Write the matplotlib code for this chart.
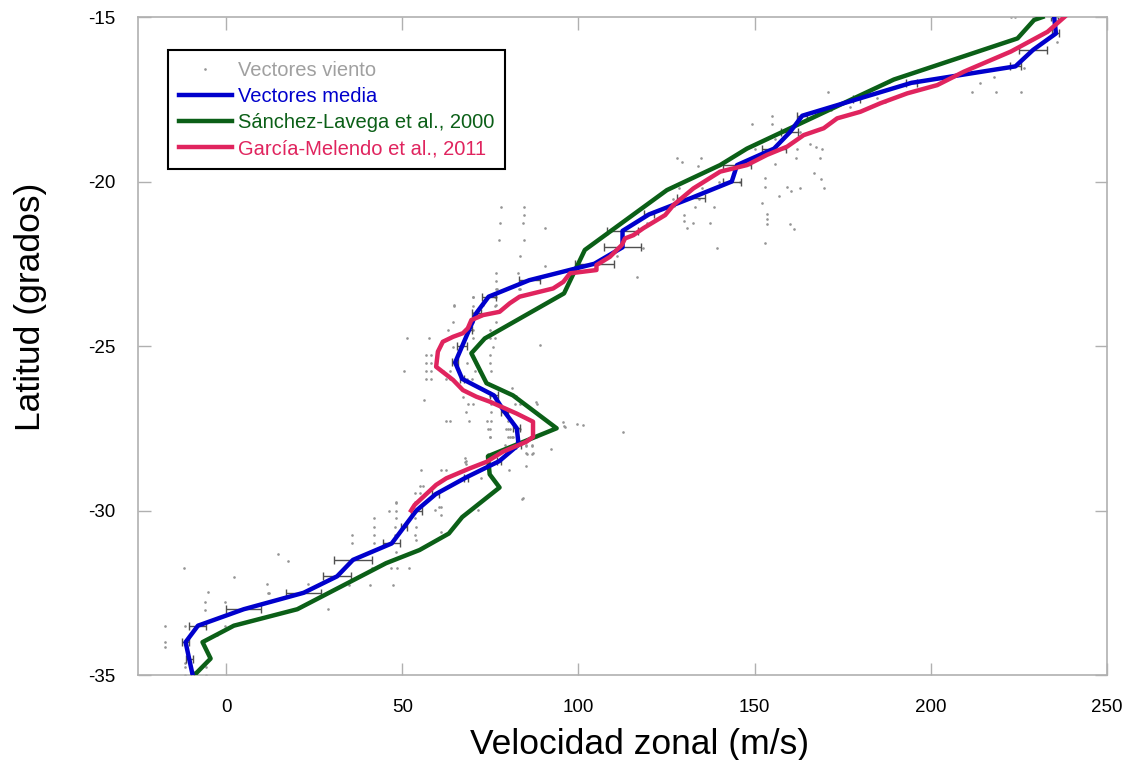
import matplotlib
matplotlib.use("Agg")
import matplotlib.pyplot as plt

plt.rcParams['font.family'] = ['Liberation Sans', 'DejaVu Sans']
plt.rcParams['axes.unicode_minus'] = False

# Mean wind profile (blue) with horizontal uncertainty
lat_mean = [-35, -34.5, -34, -33.5, -33, -32.5, -32, -31.5, -31, -30.5, -30,
            -29.5, -29, -28.5, -28, -27.5, -27, -26.5, -26, -25.5, -25, -24.5,
            -24, -23.5, -23, -22.5, -22, -21.5, -21, -20.5, -20, -19.5, -19,
            -18.5, -18, -17.5, -17, -16.5, -16, -15.5, -15]
u_mean = [-9.5, -10.5, -11.5, -8, 5, 22, 31.5, 36, 47, 50.5, 54,
          59.5, 68, 77.5, 83, 82.5, 79, 76, 67, 65, 67, 69,
          71, 74.5, 86, 104.5, 112.5, 112.5, 120, 132, 143.5, 145, 155.5,
          160, 163.5, 179, 194.5, 224, 229, 235.5, 235]
u_err = [0.5, 1.0, 1.0, 2.4, 5.0, 5.0, 4.0, 5.5, 2.4, 0.8, 1.5,
         1.0, 0.6, 0.5, 0.8, 1.0, 1.0, 1.2, 0.6, 0.8, 1.4, 0.7,
         1.2, 2.0, 3.0, 5.5, 5.2, 4.5, 1.4, 4.0, 2.6, 4.0, 3.3,
         2.4, 1.4, 1.0, 1.5, 1.6, 4.0, 1.0, 1.0]

# Sánchez-Lavega et al., 2000 profile
lat_sl = [-35, -34.5, -34, -33.5, -33, -31.6, -31.2, -30.7, -30.2, -29.3,
          -28.9, -28.35, -27.5, -26.5, -26.13, -25.22, -24.77, -23.4, -22.08,
          -20.26, -19.5, -19.0, -16.9, -15.65, -15.09, -15.0]
u_sl = [-9, -4.4, -6.7, 2.2, 20.2, 45.4, 54.9, 63.2, 67, 77.6,
        74.8, 74.3, 93.8, 81.4, 73.9, 69.6, 73.4, 95.9, 101.8,
        125.1, 140.2, 147.8, 189.5, 224.6, 229.3, 231.7]

# García-Melendo et al., 2011 profile
lat_gm = [-30.0, -29.83, -29.22, -29.02, -28.72, -28.52, -28.21, -27.91, -27.76,
          -27.3, -27.05, -26.69, -26.54, -26.34, -26.03, -25.63, -25.17, -24.87,
          -24.72, -24.61, -24.46, -24.21, -24.06, -23.96, -23.7, -23.5, -23.25,
          -23.05, -22.79, -22.69, -22.54, -22.29, -21.93, -21.73, -21.63, -21.42,
          -21.02, -20.71, -20.21, -19.7, -19.5, -19.19, -18.94, -18.59, -18.38,
          -18.08, -17.88, -17.62, -17.32, -17.07, -16.66, -16.05, -15.45, -15.0]
u_gm = [52.5, 53.5, 59.6, 62.5, 69.1, 73.9, 78.6, 85.2, 87.1,
        87.1, 82.4, 74.8, 71, 67.2, 64.4, 59.6, 60.1, 61.5,
        64.4, 67.2, 68.6, 69.6, 72.9, 77.6, 80.5, 83.3, 92.8,
        95.7, 97.6, 105.1, 105.1, 108.9, 112.3, 113.2, 115.6, 118.4,
        124.6, 127, 132.6, 140.2, 147.8, 153.5, 159.2, 163.9, 169.6,
        173.4, 180, 185.7, 193.3, 201.8, 209.4, 222.7, 233.1, 237.9]

# Individual wind vectors
u_pts = [-11.9, 14.8, 17.6, 2.1, -5.1, 11.5, 12.2, -6, -0.3, -6, -0.3, -17.3, -11.7, 29,
         23.1, -17.4, -17.4, -11.8, -11.8, -5.8, -5.8, -11.7, -2.6,
         35.7, 35.7, 41.9, 41.9, 41.9, 41.9, 46.2, 48.3, 48.3, 48.3, 47.8, 47.8, 48.1,
         46.8, 48.5, 41.4, 40.9, 47.3, 52.0, 53.5, 55.0, 53.5, 54.0, 53.5, 54.0, 53.5,
         54.0, 54.9, 60.0, 61.1, 61.1, 61.1, 71.5, 84.3, 12.0, 35, 59.2, 56.0,
         55.4, 61.1, 62.5, 67.9, 67.9, 74.8, 74.3, 80, 80, 81, 79.1, 85.2, 86.7,
         85.2, 87.1, 92.3, 96.1, 80.2, 85.2, 72.4, 84.1, 74.3, 68, 68, 60.4,
         83.3, 90.4, 76.7, 82.9, 76.5, 83.3, 76.5, 83.3, 70, 76.7, 72.9, 76.7, 64.8,
         70, 71.5, 64.4, 70, 76.7, 62.9, 70, 74.8, 70, 74.8, 76.2, 51.3, 57.7,
         64.4, 75.7, 89, 56.7, 58.2, 74.8, 64.8, 68.5, 71, 56.7, 58.2, 74.8,
         50.6, 56.7, 58.2, 61.5, 63.5, 70.5, 71.7, 75.1, 56.7, 58.2, 62.5, 63.6,
         68.3, 69.8, 81, 67.2, 56.1, 74.8, 82.4, 68.6, 70.2, 75.3, 81.9, 83.3,
         87.9, 88.2, 68, 75.3, 81.4, 87.6, 62.3, 63.4, 68.8, 74.1, 75.3, 79.9,
         81.0, 95.7, 95.9, 99.5, 101.3, 112.5, 74.8, 79.5, 80.5, 83.3, 74.8, 80.5,
         81.5, 86.9, 88.0, 80.5, 81.6, 85.2, 86.9, 85.5, 86.9, 48.3,
         77.9, 84.5, 84.5, 77.6, 84.3, 90.4, 77.4, 84.5, 77, 83, 70.2, 76.2,
         64.6, 70.2, 76.2, 116.7, 118.4, 119.4, 110.8,
         127.9, 129.5, 134.8, 134, 149.2, 154.9, 154.9, 170.7, 155.9, 152.1, 152.8,
         152.8, 159.2, 160.3, 161.8, 162, 165.8, 167.5, 169, 168.5, 138.6, 137.2,
         132.6, 130.7, 133.1, 130, 130, 127, 126.7, 139.8, 145.9, 155.9, 162.8,
         170.3, 177, 183.8, 187.6,
         211.8, 218.6, 225.5, 213.9, 217.9, 219.8, 226.5, 235.7, 222.7, 224.0,
         228.9, 237.9, 188.1, 184.8, 187.1,
         171.8, 155.9, 150.1, 162.9, 166.9, 168.7, 169.6, 156.8, 153.6, 153.6,
         153.6, 160.1, 161.3, 153, 128.5, 130, 135.1, 134.2, 139.4]
lat_pts = [-31.76, -31.32, -31.52, -32.01, -32.47, -32.24, -32.5, -32.77, -32.77, -33.02,
           -33.51, -33.51, -33.51, -33.0, -32.24, -34.01, -34.14, -34.63, -34.75, -34.75,
           -35.0, -35.0, -33.78,
           -30.74, -31.0, -30.24, -30.5, -30.74, -31.0, -30.0, -29.75, -30.0, -30.24,
           -30.49, -30.74, -31.25, -31.76, -31.76, -31.76, -32.26, -32.26, -31.76,
           -29.48, -29.48, -29.75, -30.0, -30.24, -30.49, -30.74, -30.9, -29.25,
           -29.48, -29.9, -30.14, -30.64, -29.97, -29.63, -32.52, -32.26, -29.98, -29.25,
           -28.77, -28.77, -28.77, -28.41, -28.52, -27.76, -27.52, -27.52, -27.76,
           -27.76, -28.01, -28.01, -28.01, -28.26, -28.26, -28.13, -27.45, -28.77,
           -28.64, -29.02, -29.66, -28.28, -28.48, -28.6, -29.89,
           -22.26, -22.57, -22.77, -22.77, -23.01, -23.01, -23.28, -23.28, -23.5, -23.5,
           -23.75, -23.75, -23.75, -24.0, -24.0, -24.26, -24.26, -24.26, -24.51, -24.51,
           -24.51, -24.76, -24.76, -24.76, -24.77, -24.77, -25.02, -25.02, -24.97,
           -25.27, -25.27, -25.27, -25.52, -25.52, -25.52, -25.52, -25.52, -25.52,
           -25.76, -25.76, -25.76, -25.76, -25.76, -25.76, -25.76, -25.76, -26.01,
           -26.01, -26.01, -26.01, -26.01, -26.01, -26.27, -26.54, -26.64, -26.51,
           -26.51, -26.76, -26.76, -26.76, -26.76, -26.76, -26.7, -26.76, -27.02,
           -27.02, -27.02, -27.02, -27.27, -27.27, -27.27, -27.27, -27.27, -27.27,
           -27.27, -27.3, -27.42, -27.38, -27.4, -27.6, -27.52, -27.52, -27.52, -27.52,
           -27.78, -27.78, -27.78, -27.78, -27.78, -28.03, -28.03, -28.03, -28.03,
           -28.28, -28.28, -29.76,
           -20.77, -20.77, -21.02, -21.27, -21.27, -21.4, -21.78, -21.78, -23.27,
           -23.27, -23.52, -23.52, -23.77, -23.77, -23.77, -22.89, -22.03, -21.27,
           -22.26,
           -19.27, -19.42, -19.27, -19.52, -18.26, -18.01, -18.26, -17.29, -19.48,
           -20.64, -19.9, -20.16, -20.16, -20.28, -19.28, -19.02, -18.87, -18.94,
           -19.02, -19.28, -20.77, -21.27, -21.27, -21.4, -20.77, -21.02, -21.2,
           -20.74, -20.52, -20.0, -20.0, -19.02, -18.5, -17.78, -17.73, -17.32, -17.52,
           -17.27, -17.27, -17.27, -17.02, -16.83, -16.56, -16.54, -15.75, -15.01,
           -15.01, -15.01, -15.0, -16.97, -17.47, -17.57,
           -17.83, -18.71, -19.02, -20.2, -19.75, -19.92, -20.2, -20.44, -20.99,
           -21.15, -21.29, -21.29, -21.44, -21.86, -20.2, -20.4, -20.2, -20.53, -22.02]

labels = ['Vectores viento', 'Vectores media',
          'Sánchez-Lavega et al., 2000', 'García-Melendo et al., 2011']
colors = ['#a0a0a0', '#0000cc', '#0b5f17', '#e0245e']

fig = plt.figure(figsize=(11.24, 7.6), dpi=100)
ax = fig.add_axes([0.1228, 0.1118, 0.8621, 0.8658])

pts, = ax.plot(u_pts, lat_pts, 'o', ms=1.9, color='#959595', mec='none', zorder=1)
ax.errorbar(u_mean, lat_mean, xerr=u_err, fmt='none', ecolor='#505050',
            elinewidth=1.0, capsize=3, capthick=1.0, zorder=2)
l_mean, = ax.plot(u_mean, lat_mean, color=colors[1], lw=3.2, zorder=4)
l_sl, = ax.plot(u_sl, lat_sl, color=colors[2], lw=3.2, zorder=3)
l_gm, = ax.plot(u_gm, lat_gm, color=colors[3], lw=3.2, zorder=5)

ax.set_xlim(-25, 250)
ax.set_ylim(-35, -15)
ax.set_xticks([0, 50, 100, 150, 200, 250])
ax.set_yticks([-35, -30, -25, -20, -15])

for side in ['left', 'right', 'top', 'bottom']:
    ax.spines[side].set_color('#b0b0b0')
    ax.spines[side].set_linewidth(1.2)
ax.tick_params(which='both', direction='in', length=9, width=1, color='#b0b0b0',
               top=True, right=True, labelsize=13.5)
ax.tick_params(axis='x', pad=17)
ax.tick_params(axis='y', pad=16)

ax.set_xlabel('Velocidad zonal (m/s)', fontsize=25.5)
ax.xaxis.set_label_coords(0.5175, -0.080)
ax.set_ylabel('Latitud (grados)', fontsize=25.5)
ax.yaxis.set_label_coords(-0.094, 0.56)

leg = ax.legend([pts, l_mean, l_sl, l_gm], labels, loc='upper left',
                bbox_to_anchor=(0.031, 0.95), borderaxespad=0, fancybox=False,
                edgecolor='black', fontsize=14.5, handlelength=2.6,
                handletextpad=0.3, labelspacing=0.35, borderpad=0.55,
                markerscale=1.0, framealpha=1)
leg.get_frame().set_linewidth(1.5)
for txt, c in zip(leg.get_texts(), colors):
    txt.set_color(c)

fig.savefig('out.png', dpi=100)
